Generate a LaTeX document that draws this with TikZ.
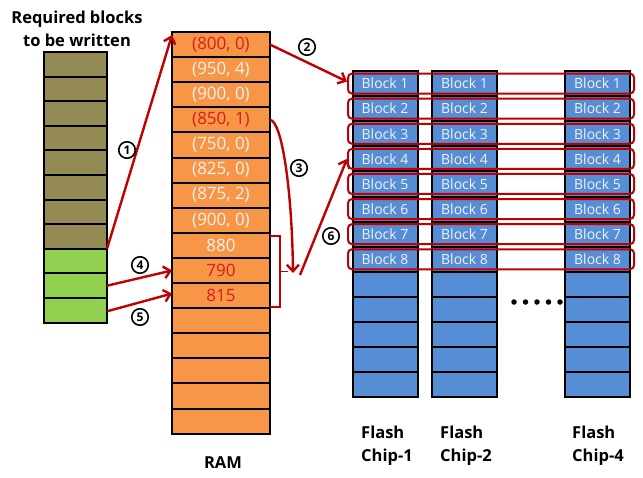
\documentclass[tikz,border=0pt]{standalone}
\usepackage{fontspec}
\setmainfont{Open Sans}
\usetikzlibrary{arrows.meta,calc}
\definecolor{olivec}{RGB}{148,138,84}
\definecolor{greenc}{RGB}{146,208,80}
\definecolor{orangec}{RGB}{247,150,70}
\definecolor{bluec}{RGB}{85,142,213}
\definecolor{redc}{RGB}{192,0,0}
\definecolor{redtxt}{RGB}{215,30,30}
\definecolor{lighttxt}{RGB}{242,242,242}
\begin{document}
\begin{tikzpicture}[x=1pt,y=-1pt,
  cell/.style={draw=black, line width=2pt, inner sep=0pt, outer sep=0pt},
  leftcell/.style={cell, minimum width=63pt, minimum height=24.6pt},
  ramcell/.style={cell, fill=orangec, minimum width=98pt, minimum height=25.1pt, font=\fontsize{17}{18}\selectfont},
  chipcell/.style={cell, fill=bluec, minimum width=65pt, minimum height=25.1pt, text=lighttxt, font=\fontsize{14}{15}\selectfont},
  rowbox/.style={draw=redc, line width=2pt, rounded corners=4pt, minimum width=286pt, minimum height=20pt, inner sep=0pt},
  arr/.style={draw=redc, line width=2.4pt, -{Straight Barb[length=6.5pt,width=12pt]}},
  bracket/.style={draw=redc, line width=1.5pt},
  num/.style={circle, draw=black, line width=1.6pt, inner sep=0pt, minimum size=16.5pt, font=\bfseries\fontsize{12}{12}\selectfont},
  lbl/.style={font=\bfseries\fontsize{16.5}{23}\selectfont, align=left, inner sep=0pt},
  dotc/.style={circle, fill=black, inner sep=0pt, minimum size=5.5pt}
]
\useasboundingbox (0,0) rectangle (643,477);

% title
\node[lbl, align=center] (title) at (77,29) {Required blocks\\to be written};

% left column
\foreach \i in {1,...,8}
  \node[leftcell, fill=olivec] (l\i) at (75.5, 52+24.6*\i-12.3) {};
\foreach \i in {9,10,11}
  \node[leftcell, fill=greenc] (l\i) at (75.5, 52+24.6*\i-12.3) {};

% RAM
\foreach \i/\t/\c in {1/{(800, 0)}/redtxt, 2/{(950, 4)}/lighttxt, 3/{(900, 0)}/lighttxt,
  4/{(850, 1)}/redtxt, 5/{(750, 0)}/lighttxt, 6/{(825, 0)}/lighttxt, 7/{(875, 2)}/lighttxt,
  8/{(900, 0)}/lighttxt, 9/{880}/lighttxt, 10/{790}/redtxt, 11/{815}/redtxt,
  12/{}/lighttxt, 13/{}/lighttxt, 14/{}/lighttxt, 15/{}/lighttxt, 16/{}/lighttxt}
  \node[ramcell, text=\c] (r\i) at (221, 32+25.1*\i-12.55) {\t};
\node[lbl] (ram) at (223,463) {RAM};

% flash chips
\foreach \c/\x in {1/385, 2/464.5, 4/597.5}
  \foreach \i in {1,...,13}
    \node[chipcell] (c\c-\i) at (\x, 71+25.1*\i-12.55) {\ifnum\i<9 Block \i\fi};
\foreach \i in {1,...,8}
  \node[rowbox] (row\i) at (491, 71+25.1*\i-12.55) {};

\node[lbl, anchor=north west] (f1) at (361,426) {Flash\\Chip-1};
\node[lbl, anchor=north west] (f2) at (440,426) {Flash\\Chip-2};
\node[lbl, anchor=north west] (f4) at (572,426) {Flash\\Chip-4};

% ellipsis dots
\foreach \k in {0,...,4}
  \node[dotc] (d\k) at (514+11.5*\k, 302) {};

% arrows
\draw[arr] (l9.north east) -- ($(r1.north west)+(0,3)$);
\draw[arr] (l10.east) -- (r10.west);
\draw[arr] ($(l11.east)+(0,1)$) -- ($(r11.west)+(0,-2)$);
\draw[arr] (r1.east) -- ($(row1.west)+(0,-2)$);
\coordinate (m3) at (293,273);
\draw[arr] (r4.east) .. controls (282,121) and (292,190) .. (m3);
\draw[bracket] ($(r9.north east)+(0,3)$) -- ++(10,0) |- ($(r11.south east)+(0,-1)$);
\coordinate (bt) at ($(r10.east)+(10,1)$);
\draw[bracket] (bt) -- ++(8,0);
\coordinate (m6) at (300,275);
\draw[arr] (m6) -- (row4.west);

% step numbers
\node[num] (n1) at (127,150) {1};
\node[num] (n2) at (307,47) {2};
\node[num] (n3) at (299,168) {3};
\node[num] (n4) at (140,265) {4};
\node[num] (n5) at (140,317) {5};
\node[num] (n6) at (331,236) {6};
\end{tikzpicture}
\end{document}
